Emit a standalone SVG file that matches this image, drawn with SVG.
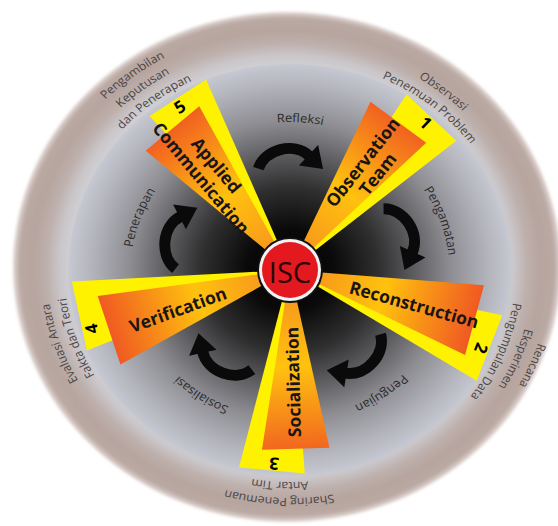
<svg xmlns="http://www.w3.org/2000/svg" xmlns:xlink="http://www.w3.org/1999/xlink" width="558" height="526" viewBox="0 0 558 526">
<defs>
<style>
.yel{fill:#fff200;}
.org{fill:url(#og);}
.lbl{font-family:"Open Sans","Liberation Sans",sans-serif;font-weight:700;font-size:17.5px;fill:#1a1414;text-anchor:middle;}
.num{font-family:"Open Sans","Liberation Sans",sans-serif;font-weight:700;font-size:17px;fill:#000;text-anchor:middle;dominant-baseline:central;}
.ring{font-family:"Open Sans","Liberation Sans",sans-serif;font-size:11.5px;fill:#4a4545;text-anchor:middle;}
.step{font-family:"Open Sans","Liberation Sans",sans-serif;font-size:12px;fill:#2b2b2e;text-anchor:middle;}
</style>
<radialGradient id="ringG" cx="0.5" cy="0.5" r="0.5">
<stop offset="0.78" stop-color="#d2d2d8"/>
<stop offset="0.83" stop-color="#cac6c9"/>
<stop offset="0.88" stop-color="#bdafab"/>
<stop offset="0.93" stop-color="#b6a49e"/>
<stop offset="0.975" stop-color="#baa8a2"/>
<stop offset="1" stop-color="#e2d8d5"/>
</radialGradient>
<radialGradient id="diskG" cx="0.5" cy="0.5" r="0.5">
<stop offset="0" stop-color="#000"/>
<stop offset="0.2" stop-color="#0a0a0a"/>
<stop offset="0.4" stop-color="#2f2f30"/>
<stop offset="0.55" stop-color="#5a5a5d"/>
<stop offset="0.72" stop-color="#8c8c91"/>
<stop offset="0.88" stop-color="#b0b1b8"/>
<stop offset="1" stop-color="#c6c8d2"/>
</radialGradient>
<linearGradient id="og" gradientUnits="userSpaceOnUse" x1="20" y1="0" x2="190" y2="0">
<stop offset="0" stop-color="#f7941d"/>
<stop offset="0.45" stop-color="#ffc20e"/>
<stop offset="1" stop-color="#f05a22"/>
</linearGradient>
<filter id="soft" x="-5%" y="-5%" width="110%" height="110%"><feGaussianBlur stdDeviation="1.5"/></filter>
<path id="c148" d="M148,0 A148,148 0 1,1 -148,0 A148,148 0 1,1 148,0"/>
<path id="c210" d="M210,0 A210,210 0 1,1 -210,0 A210,210 0 1,1 210,0"/>
<path id="c212" d="M212,0 A212,212 0 1,1 -212,0 A212,212 0 1,1 212,0"/>
<path id="c226" d="M226,0 A226,226 0 1,1 -226,0 A226,226 0 1,1 226,0"/>
<path id="c228" d="M228,0 A228,228 0 1,1 -228,0 A228,228 0 1,1 228,0"/>
<path id="c242" d="M242,0 A242,242 0 1,1 -242,0 A242,242 0 1,1 242,0"/>
<g id="arr">
<path d="M-33,4 C-27,-15 2,-24 18,-9" fill="none" stroke="#0a0a0a" stroke-width="11"/>
<polygon points="31.7,3.6 26.5,-20.3 7.5,0.3" fill="#0a0a0a"/>
</g>
</defs>

<g id="background">
<ellipse cx="287" cy="267" rx="274" ry="255" fill="url(#ringG)" filter="url(#soft)"/>
<ellipse cx="290" cy="270" rx="221.5" ry="206" fill="url(#diskG)"/>
</g>

<g id="connectors">
<use href="#arr" transform="translate(291.4,165) rotate(0.7)"/>
<use href="#arr" transform="translate(397.8,238.8) rotate(71.5)"/>
<use href="#arr" transform="translate(355.2,355.7) rotate(146.6)"/>
<use href="#arr" transform="translate(222.5,354.2) rotate(214.7)"/>
<use href="#arr" transform="translate(183.1,236.3) rotate(-70)"/>
<g transform="translate(290,270) scale(1.075,1)">
<text class="step"><textPath href="#c148" startOffset="706.5">Refleksi</textPath></text>
<text class="step"><textPath href="#c148" startOffset="879.8">Pengamatan</textPath></text>
<text class="step"><textPath href="#c148" startOffset="143.1">Pengujian</textPath></text>
<text class="step"><textPath href="#c148" startOffset="318.7">Sosialisasi</textPath></text>
<text class="step"><textPath href="#c148" startOffset="517.9">Penerapan</textPath></text>
</g>
</g>

<g id="stage-1">
<polygon class="yel" transform="translate(290,270) rotate(-47.15)" points="0,0 207.9,-34 207.9,34"/>
<polygon class="org" transform="translate(290,270) rotate(-53.75)" points="0,0 183.2,-34.6 183.2,34.6"/>
<text class="num" transform="translate(426,122.5) rotate(42.85)">1</text>
<text class="lbl" transform="translate(370,168) rotate(-52)"><tspan x="0" y="-3">Observation</tspan><tspan x="0" y="16">Team</tspan></text>
<g transform="translate(290,270) scale(1.075,1)">
<text class="ring"><textPath href="#c226" startOffset="1216.9">Observasi</textPath></text>
<text class="ring"><textPath href="#c210" startOffset="1130.7">Penemuan Problem</textPath></text>
</g>
</g>

<g id="stage-2">
<polygon class="yel" transform="translate(290,270) rotate(21.36)" points="0,0 214.2,-35.1 214.2,35.1"/>
<polygon class="org" transform="translate(290,270) rotate(15.19)" points="0,0 191.2,-36.1 191.2,36.1"/>
<text class="num" transform="translate(481.5,348.5) rotate(111.36)">2</text>
<text class="lbl" transform="translate(414,305) rotate(15.5)" y="6">Reconstruction</text>
<g transform="translate(290,270) scale(1.075,1)">
<text class="ring"><textPath href="#c242" startOffset="97.1">Rencana</textPath></text>
<text class="ring"><textPath href="#c226" startOffset="90.7">Eksperimen</textPath></text>
<text class="ring"><textPath href="#c210" startOffset="84.3">Pengumpulan Data</textPath></text>
</g>
</g>

<g id="stage-3">
<polygon class="yel" transform="translate(290,270) rotate(95.16)" points="0,0 201.3,-33 201.3,33"/>
<polygon class="org" transform="translate(290,270) rotate(88.17)" points="0,0 178.8,-33.8 178.8,33.8"/>
<text class="num" transform="translate(274,464) rotate(185.16)">3</text>
<text class="lbl" transform="translate(293.6,382) rotate(-91.5)" y="6">Socialization</text>
<g transform="translate(290,270) scale(1.075,1)">
<text class="ring"><textPath href="#c228" startOffset="368.1">Sharing Penemuan</textPath></text>
<text class="ring"><textPath href="#c212" startOffset="342.3">Antar Tim</textPath></text>
</g>
</g>

<g id="stage-4">
<polygon class="yel" transform="translate(290,270) rotate(167.69)" points="0,0 215.6,-35.3 215.6,35.3"/>
<polygon class="org" transform="translate(290,270) rotate(161.58)" points="0,0 190.7,-36 190.7,36"/>
<text class="num" transform="translate(91,329) rotate(-102.3)">4</text>
<text class="lbl" transform="translate(178,310) rotate(-20)" y="6">Verification</text>
<g transform="translate(290,270) scale(1.075,1)">
<text class="ring"><textPath href="#c226" startOffset="635.1">Evaluasi Antara</textPath></text>
<text class="ring"><textPath href="#c210" startOffset="590.1">Fakta dan Teori</textPath></text>
</g>
</g>

<g id="stage-5">
<polygon class="yel" transform="translate(290,270) rotate(-123.07)" points="0,0 205.5,-33.6 205.5,33.6"/>
<polygon class="org" transform="translate(290,270) rotate(-129.72)" points="0,0 183.9,-34.8 183.9,34.8"/>
<text class="num" transform="translate(179.5,106.5) rotate(-33.07)">5</text>
<text class="lbl" transform="translate(208.5,171.9) rotate(50)"><tspan x="0" y="-4">Applied</tspan><tspan x="0" y="16">Communication</tspan></text>
<g transform="translate(290,270) scale(1.075,1)">
<text class="ring"><textPath href="#c242" startOffset="984.1">Pengambilan</textPath></text>
<text class="ring"><textPath href="#c226" startOffset="919.1">Keputusan</textPath></text>
<text class="ring"><textPath href="#c210" startOffset="854">dan Penerapan</textPath></text>
</g>
</g>

<g id="isc">
<circle cx="290" cy="270" r="33" fill="#111"/>
<circle cx="290" cy="270" r="31" fill="#f2f2f2"/>
<circle cx="290" cy="270" r="28" fill="#e3191f"/>
<text x="290" y="271" font-family="'Open Sans','Liberation Sans',sans-serif" font-size="29" fill="#2a0505" text-anchor="middle" dominant-baseline="central">ISC</text>
</g>
</svg>
